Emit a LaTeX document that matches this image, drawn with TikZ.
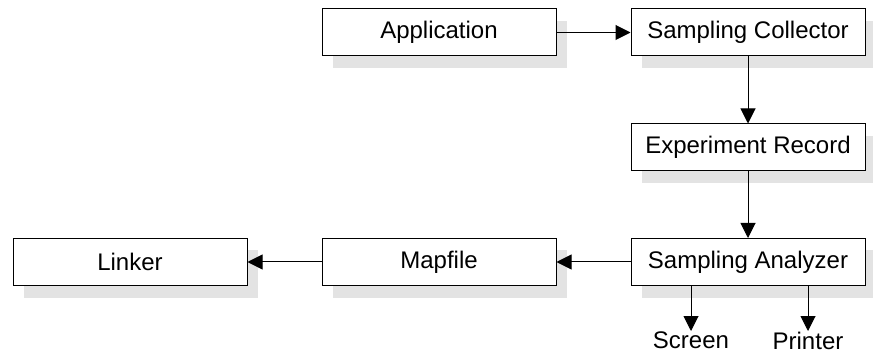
\documentclass[tikz,border=0pt]{standalone}
\usepackage{fontspec}
\setmainfont{Liberation Sans}
\usetikzlibrary{arrows.meta,shadows}

\tikzset{
  box/.style={draw, line width=1pt, fill=white, minimum width=234pt, minimum height=47pt,
    inner sep=0pt, drop shadow={shadow xshift=11pt, shadow yshift=-12pt, fill=black!11, opacity=1}},
  flow/.style={-{Triangle[length=15pt,width=15pt]}, line width=1pt}
}

\begin{document}
\begin{tikzpicture}[x=1pt,y=-1pt,font=\fontsize{24}{28}\selectfont]
\useasboundingbox (0,0) rectangle (873,358);

\node[box] (app) at (439,32.5) {Application};
\node[box] (coll) at (748,32.5) {Sampling Collector};
\node[box] (rec) at (748,147.5) {Experiment Record};
\node[box] (anal) at (748,262) {Sampling Analyzer};
\node[box] (map) at (439,262) {Mapfile};
\node[box] (link) at (130,262) {Linker};

\node[anchor=north,inner sep=1pt] (scr) at (691,331) {Screen};
\node[anchor=north,inner sep=1pt] (prn) at (808,331) {Printer};

\draw[flow] (app) -- (coll);
\draw[flow] (coll) -- (rec);
\draw[flow] (rec) -- (anal);
\draw[flow] (anal) -- (map);
\draw[flow] (map) -- (link);
\draw[flow] (anal.south -| scr.north) -- (scr.north);
\draw[flow] (anal.south -| prn.north) -- (prn.north);

\end{tikzpicture}
\end{document}
